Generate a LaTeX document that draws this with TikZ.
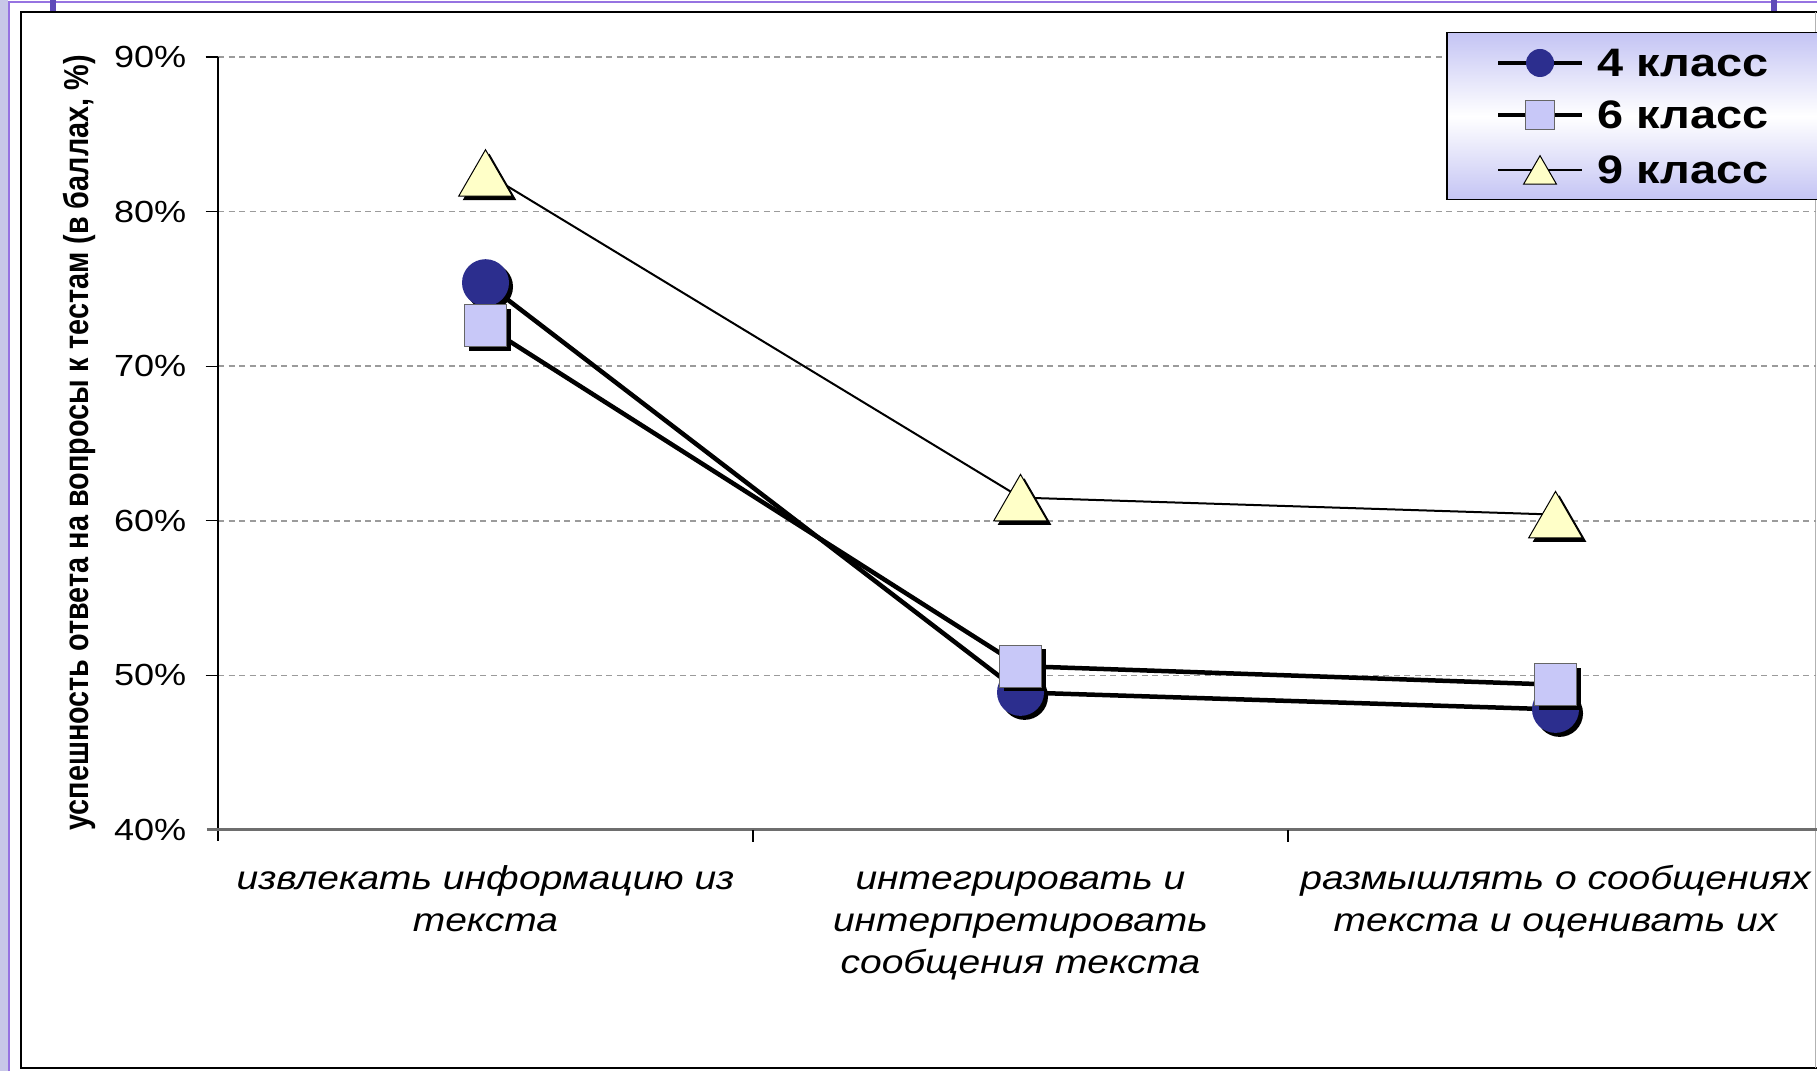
\documentclass[tikz,border=0pt]{standalone}
\usepackage{fontspec}
\setmainfont{Liberation Sans}
\usetikzlibrary{shapes.geometric}
\usetikzlibrary{shadows}
\usetikzlibrary{positioning}

\definecolor{frameLav}{RGB}{200,200,232}
\definecolor{framePurple}{RGB}{150,115,225}
\definecolor{tickPurple}{RGB}{95,75,185}
\definecolor{dotBlue}{RGB}{44,46,142}
\definecolor{boxLav}{RGB}{200,200,248}
\definecolor{triYellow}{RGB}{255,255,200}
\definecolor{legendLav}{RGB}{196,196,244}
\definecolor{gridGray}{RGB}{155,155,155}
\definecolor{axisGray}{RGB}{110,110,110}

% the source picture is stretched sideways
\newcommand{\stretchx}[1]{\scalebox{1.18}[1]{#1}}

\begin{document}
\begin{tikzpicture}[
    line width = 0.4pt,
    gridline/.style = {gridGray, line width = 0.015cm, dash pattern = on 0.06cm off 0.045cm},
    thickseries/.style = {black, line width = 0.045cm, line join = round},
    thinseries/.style = {black, line width = 0.02cm},
    shadowed/.style = {drop shadow = {shadow xshift = 0.04cm, shadow yshift = -0.04cm, fill = black, opacity = 1}},
    dotmark/.style = {circle, fill = dotBlue, inner sep = 0, minimum size = 0.47cm},
    boxmark/.style = {rectangle, draw = black!60, line width = 0.01cm, fill = boxLav, inner sep = 0, minimum size = 0.42cm},
    trimark/.style = {regular polygon, regular polygon sides = 3, draw = black, line width = 0.01cm, fill = triYellow, inner sep = 0, minimum size = 0.62cm},
    ticklabel/.style = {anchor = east, inner sep = 0, font = \fontsize{8.7}{10}\selectfont},
    catlabel/.style = {anchor = base, inner sep = 0, font = \itshape\fontsize{9.4}{11.95}\selectfont},
    legendtext/.style = {anchor = west, inner sep = 0, font = \bfseries\fontsize{11.3}{12}\selectfont},
]

    \useasboundingbox (0,0) rectangle (18.17,10.71);
    \fill[white] (0,0) rectangle (18.17,10.71);

    % slide frame
    \fill[frameLav] (0,0) rectangle (0.08,10.71);
    \draw[framePurple, line width = 0.02cm] (0.09,0) -- (0.09,10.69) -- (18.17,10.69);
    \fill[tickPurple] (0.50,10.59) rectangle (0.56,10.71);
    \fill[tickPurple] (17.71,10.59) rectangle (17.77,10.71);
    \draw[black, line width = 0.015cm] (18.17,0.03) -- (0.21,0.03) -- (0.21,10.59) -- (18.17,10.59);
    \draw[black!30, line width = 0.01cm] (18.15,0.03) -- (18.15,10.59);

    \node (ylabel) at (0.79,6.28) [rotate = 90, inner sep = 0, font = \bfseries\fontsize{8.2}{9}\selectfont]
        {\scalebox{1}[1.2]{успешность ответа на вопросы к тестам (в баллах, \%)}};

    \begin{scope}[shift = {(2.18,-3.774)}, x = 5.35cm, y = 0.1546cm]

        % grid and axes
        \foreach \v in {50,60,...,90} {
            \draw[gridline] (0,\v) -- (2.987,\v);
            \draw[black, line width = 0.012cm] (-0.023,\v) -- (0,\v);
        }
        \foreach \v in {40,50,...,90}
            \node (tick\v) [ticklabel] at (-0.058,\v) {\stretchx{\v\%}};
        \draw[black, line width = 0.015cm] (0,90) -- (0,39.3);
        \draw[axisGray, line width = 0.03cm] (-0.021,40) -- (2.989,40);
        \foreach \c in {1,2}
            \draw[black, line width = 0.012cm] (\c,40) -- (\c,39.25);

        % data points
        \coordinate (k4a) at (0.5,75.4);
        \coordinate (k4b) at (1.5,48.9);
        \coordinate (k4c) at (2.5,47.8);
        \coordinate (k6a) at (0.5,72.6);
        \coordinate (k6b) at (1.5,50.6);
        \coordinate (k6c) at (2.5,49.4);
        \coordinate (k9a) at (0.5,82.5);
        \coordinate (k9b) at (1.5,61.5);
        \coordinate (k9c) at (2.5,60.4);

        % 4 класс
        \draw[thickseries] (k4a) -- (k4b) -- (k4c);
        \foreach \p in {a,b,c}
            \node (m4\p) [dotmark, shadowed] at (k4\p) {};

        % 6 класс
        \draw[thickseries] (k6a) -- (k6b) -- (k6c);
        \foreach \p in {a,b,c}
            \node (m6\p) [boxmark, shadowed] at (k6\p) {};

        % 9 класс
        \draw[thinseries] (k9a) -- (k9b) -- (k9c);
        \foreach \p in {a,b,c}
            \node (m9\p) [trimark, shadowed, yshift = -0.078cm] at (k9\p) {};

        % category labels
        \node (cat1) [catlabel] at (0.5,36.12)
            {\stretchx{\begin{tabular}[t]{@{}c@{}}извлекать информацию из\\текста\end{tabular}}};
        \node (cat2) [catlabel] at (1.5,36.12)
            {\stretchx{\begin{tabular}[t]{@{}c@{}}интегрировать и\\интерпретировать\\сообщения текста\end{tabular}}};
        \node (cat3) [catlabel] at (2.5,36.12)
            {\stretchx{\begin{tabular}[t]{@{}c@{}}размышлять о сообщениях\\текста и оценивать их\end{tabular}}};
    \end{scope}

    % legend
    \node (legend) [draw = black, line width = 0.015cm, top color = legendLav, bottom color = legendLav,
        middle color = white, minimum width = 3.71cm, minimum height = 1.67cm, inner sep = 0,
        anchor = north west] at (14.46,10.39) {};

    \coordinate (l4) at (15.40,10.08);
    \coordinate (l6) at (15.40,9.56);
    \coordinate (l9) at (15.40,9.01);

    \draw[thickseries] ([xshift = -0.42cm] l4) -- ([xshift = 0.42cm] l4);
    \node (lm4) [dotmark, minimum size = 0.28cm] at (l4) {};
    \node (lt4) [legendtext] at (15.97,10.08) {\stretchx{4 класс}};

    \draw[thickseries] ([xshift = -0.42cm] l6) -- ([xshift = 0.42cm] l6);
    \node (lm6) [boxmark, minimum size = 0.29cm] at (l6) {};
    \node (lt6) [legendtext] at (15.97,9.56) {\stretchx{6 класс}};

    \draw[thinseries] ([xshift = -0.42cm] l9) -- ([xshift = 0.42cm] l9);
    \node (lm9) [trimark, minimum size = 0.38cm, yshift = -0.047cm] at (l9) {};
    \node (lt9) [legendtext] at (15.97,9.01) {\stretchx{9 класс}};

\end{tikzpicture}
\end{document}
